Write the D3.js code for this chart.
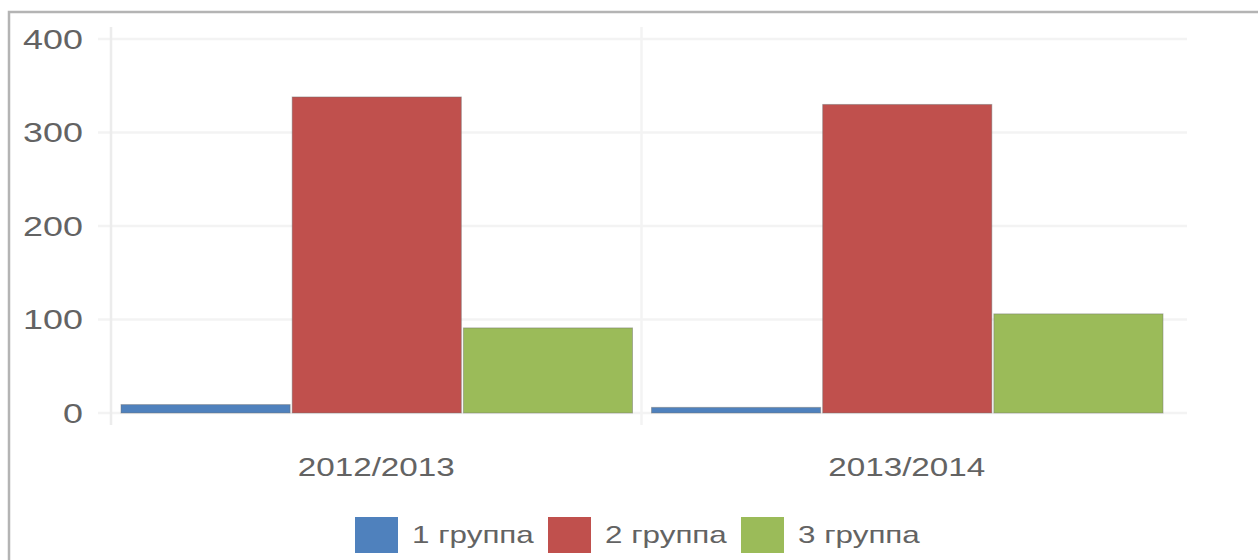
<!DOCTYPE html>
<html>
<head>
<meta charset="utf-8">
<script src="https://cdn.jsdelivr.net/npm/d3@7"></script>
<style>
  html, body { margin: 0; padding: 0; background: #fff; }
  svg { display: block; }
</style>
</head>
<body>
<div id="chart"></div>
<script>
// chart data
var seasons = ["2012/2013", "2013/2014"];
var groups = ["1 группа", "2 группа", "3 группа"];
var group1 = [9, 6];
var group2 = [338, 330];
var group3 = [91, 106];
var yTicks = [0, 100, 200, 300, 400];
var colors = ["#4f81bd", "#c0504d", "#9bbb59"];

var seriesValues = [group1, group2, group3];

var width = 1258, height = 560;
var textColor = "#636363";
var stretch = 1.33; // the picture has wide glyphs

var svg = d3.select("#chart").append("svg")
  .attr("width", width)
  .attr("height", height)
  .style("font-family", "'Liberation Sans', Arial, sans-serif");

// outer frame
svg.append("rect")
  .attr("x", 9).attr("y", 12)
  .attr("width", width + 20).attr("height", height + 20)
  .attr("fill", "#fff")
  .attr("stroke", "#b4b4b4")
  .attr("stroke-width", 2.5);

var y = d3.scaleLinear().domain([0, 400]).range([413, 39]);
var x = d3.scaleBand().domain(seasons).range([111, 1172]);
var xInner = d3.scaleBand().domain(groups).range([10, x.bandwidth() - 9]).paddingInner(0.012);

// horizontal gridlines
svg.append("g").selectAll("line")
  .data(yTicks)
  .join("line")
    .attr("x1", 98).attr("x2", 1187)
    .attr("y1", function(d) { return y(d); })
    .attr("y2", function(d) { return y(d); })
    .attr("stroke", "#f3f3f3")
    .attr("stroke-width", 2.5);

// y axis line and category separator
svg.append("line")
  .attr("x1", 111).attr("x2", 111).attr("y1", 27).attr("y2", 425)
  .attr("stroke", "#ececec").attr("stroke-width", 2.5);
svg.append("g").selectAll("line")
  .data(seasons.slice(1))
  .join("line")
    .attr("x1", function(d) { return x(d); })
    .attr("x2", function(d) { return x(d); })
    .attr("y1", 27).attr("y2", 425)
    .attr("stroke", "#f3f3f3").attr("stroke-width", 2.5);

// y tick labels
svg.append("g").selectAll("g")
  .data(yTicks)
  .join("g")
    .attr("transform", function(d) { return "translate(83," + y(d) + ") scale(" + stretch + ",1)"; })
  .append("text")
    .attr("text-anchor", "end")
    .attr("dy", "0.36em")
    .attr("fill", textColor)
    .style("font-size", "27px")
    .text(function(d) { return d; });

// bars
var seasonG = svg.append("g").selectAll("g")
  .data(seasons)
  .join("g")
    .attr("transform", function(d) { return "translate(" + x(d) + ",0)"; });

seasonG.selectAll("rect")
  .data(function(s, si) {
    return groups.map(function(g, gi) { return { group: g, idx: gi, value: seriesValues[gi][si] }; });
  })
  .join("rect")
    .attr("x", function(d) { return xInner(d.group); })
    .attr("width", xInner.bandwidth())
    .attr("y", function(d) { return y(d.value); })
    .attr("height", function(d) { return y(0) - y(d.value); })
    .attr("fill", function(d) { return colors[d.idx]; })
    .attr("stroke", "rgba(110,110,110,0.45)")
    .attr("stroke-width", 1);

// x labels
svg.append("g").selectAll("g")
  .data(seasons)
  .join("g")
    .attr("transform", function(d) { return "translate(" + (x(d) + x.bandwidth() / 2) + ",476) scale(" + stretch + ",1)"; })
  .append("text")
    .attr("text-anchor", "middle")
    .attr("fill", textColor)
    .style("font-size", "25px")
    .text(function(d) { return d; });

// legend
var legendX = [355, 548, 741];
var legend = svg.append("g").selectAll("g")
  .data(groups)
  .join("g")
    .attr("transform", function(d, i) { return "translate(" + legendX[i] + ",517)"; });

legend.append("rect")
  .attr("width", 43).attr("height", 36)
  .attr("fill", function(d, i) { return colors[i]; });

legend.append("g")
    .attr("transform", "translate(57,26) scale(" + stretch + ",1)")
  .append("text")
    .attr("fill", textColor)
    .style("font-size", "23.6px")
    .text(function(d) { return d; });
</script>
</body>
</html>
